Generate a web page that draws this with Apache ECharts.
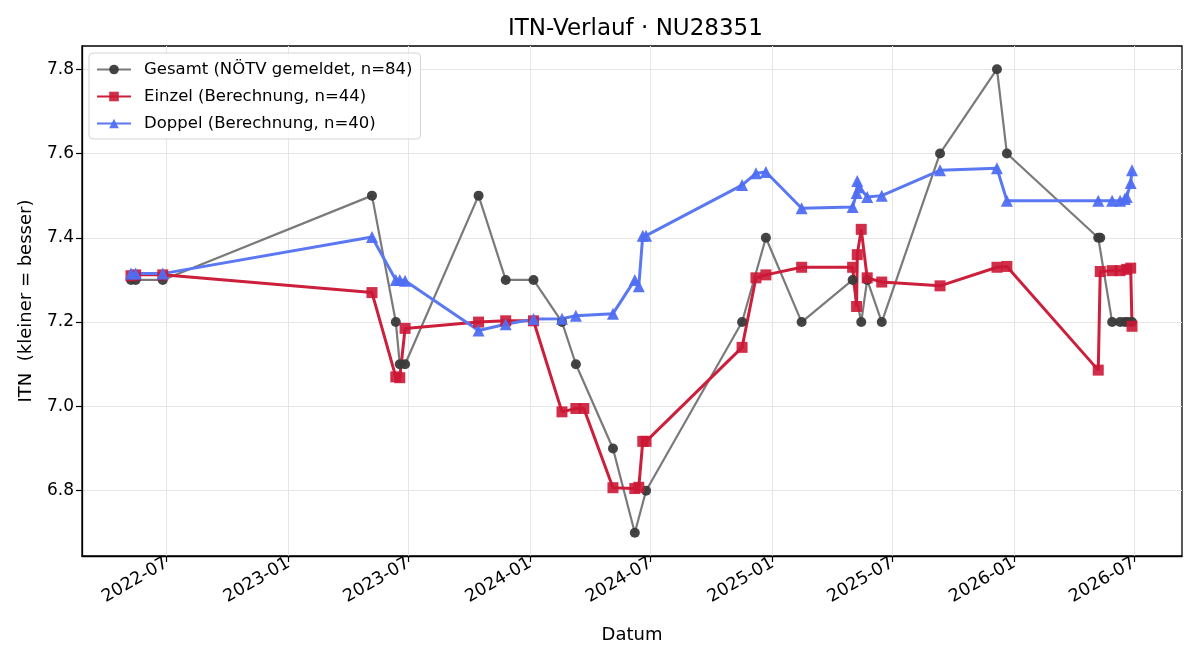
<!DOCTYPE html>
<html><head><meta charset="utf-8">
<script src="https://cdn.jsdelivr.net/npm/echarts@6/dist/echarts.min.js"></script>
<style>html,body{margin:0;padding:0;background:#fff}#c{width:1200px;height:660px}</style>
</head><body><div id="c"></div>
<script>
const gesamtDates = ['2022-05-08','2022-05-15','2022-06-25','2023-05-07','2023-06-12','2023-06-18','2023-06-26','2023-10-15','2023-11-25','2024-01-06','2024-02-18','2024-03-10','2024-05-05','2024-06-07','2024-06-24','2024-11-16','2024-12-22','2025-02-14','2025-05-02','2025-05-15','2025-05-24','2025-06-15','2025-09-11','2025-12-06','2025-12-21','2026-05-08','2026-05-11','2026-05-29','2026-06-10','2026-06-17','2026-06-22','2026-06-28'];
const gesamtValues = [7.3,7.3,7.3,7.5,7.2,7.1,7.1,7.5,7.3,7.3,7.2,7.1,6.9,6.7,6.8,7.2,7.4,7.2,7.3,7.2,7.3,7.2,7.6,7.8,7.6,7.4,7.4,7.2,7.2,7.2,7.2,7.2];

const einzelDates = ['2022-05-08','2022-05-15','2022-06-25','2023-05-07','2023-06-12','2023-06-18','2023-06-26','2023-10-15','2023-11-25','2024-01-06','2024-02-18','2024-03-10','2024-03-22','2024-05-05','2024-06-07','2024-06-13','2024-06-19','2024-06-24','2024-11-16','2024-12-07','2024-12-22','2025-02-14','2025-05-02','2025-05-08','2025-05-09','2025-05-15','2025-05-24','2025-06-15','2025-09-11','2025-12-06','2025-12-21','2026-05-08','2026-05-11','2026-05-29','2026-06-10','2026-06-20','2026-06-26','2026-06-28'];
const einzelValues = [7.31,7.312,7.312,7.27,7.07,7.068,7.185,7.2,7.203,7.203,6.987,6.995,6.995,6.807,6.805,6.808,6.917,6.917,7.14,7.305,7.312,7.33,7.33,7.237,7.36,7.42,7.305,7.295,7.286,7.33,7.332,7.086,7.32,7.322,7.322,7.325,7.328,7.19];

const doppelDates = ['2022-05-08','2022-05-15','2022-06-25','2023-05-07','2023-06-12','2023-06-18','2023-06-26','2023-10-15','2023-11-25','2024-01-06','2024-02-18','2024-03-10','2024-05-05','2024-06-07','2024-06-13','2024-06-19','2024-06-24','2024-11-16','2024-12-07','2024-12-22','2025-02-14','2025-05-02','2025-05-08','2025-05-09','2025-05-12','2025-05-24','2025-06-15','2025-09-11','2025-12-06','2025-12-21','2026-05-08','2026-05-29','2026-06-10','2026-06-17','2026-06-20','2026-06-26','2026-06-28'];
const doppelValues = [7.315,7.315,7.315,7.402,7.3,7.3,7.298,7.18,7.195,7.207,7.208,7.215,7.22,7.30,7.285,7.405,7.405,7.525,7.553,7.556,7.47,7.473,7.506,7.535,7.52,7.497,7.5,7.56,7.565,7.488,7.488,7.488,7.488,7.492,7.497,7.53,7.56];

const xTickLabels = ['2022-07','2023-01','2023-07','2024-01','2024-07','2025-01','2025-07','2026-01','2026-07'];
const yTickValues = [6.8,7.0,7.2,7.4,7.6,7.8];

function toTs(s){const p=s.split('-').map(Number);return Date.UTC(p[0],p[1]-1,p[2]||1);}
function pairs(d,v){return d.map((x,i)=>[toTs(x),v[i]]);}
function fmt(v){const d=new Date(v);return d.getUTCFullYear()+'-'+String(d.getUTCMonth()+1).padStart(2,'0');}

const FONT='DejaVu Sans';
const xTickTs = xTickLabels.map(toTs);
const chart=echarts.init(document.getElementById('c'),null,{renderer:'canvas'});
chart.setOption({
  animation:false,
  backgroundColor:'#fff',
  textStyle:{fontFamily:FONT},
  title:{text:'ITN-Verlauf · NU28351',left:503,top:13,textStyle:{fontFamily:FONT,fontSize:23,fontWeight:'normal',color:'#000'}},
  grid:{left:82,right:18,top:46,bottom:104,show:true,borderColor:'#000',borderWidth:1.3,backgroundColor:'transparent'},
  legend:{
    orient:'vertical',left:89,top:53,
    padding:[8,8,7,7],itemGap:10,itemWidth:34,itemHeight:12,
    backgroundColor:'rgba(255,255,255,0.85)',borderColor:'#d5d5d5',borderWidth:1,borderRadius:4,
    textStyle:{fontFamily:FONT,fontSize:16.5,color:'#000',padding:[0,0,0,8]},
    data:['Gesamt (NÖTV gemeldet, n=84)','Einzel (Berechnung, n=44)','Doppel (Berechnung, n=40)']
  },
  xAxis:{
    type:'value',
    min:Date.UTC(2022,1,23),max:Date.UTC(2026,8,11,12),
    name:'Datum',nameLocation:'middle',nameGap:70,
    nameTextStyle:{fontFamily:FONT,fontSize:18,color:'#000'},
    axisLine:{show:true,lineStyle:{color:'#000',width:1.3}},
    axisTick:{show:true,length:6,lineStyle:{color:'#000',width:1.2},customValues:xTickTs},
    axisLabel:{customValues:xTickTs,rotate:30,margin:6,fontFamily:FONT,fontSize:17.5,color:'#000',formatter:fmt,hideOverlap:false},
    splitLine:{show:true,lineStyle:{color:'#e6e6e6',width:1}}
  },
  yAxis:{
    type:'value',min:6.645,max:7.855,
    name:'ITN  (kleiner = besser)',nameLocation:'middle',nameGap:47,
    nameTextStyle:{fontFamily:FONT,fontSize:18,color:'#000'},
    axisLine:{show:true,lineStyle:{color:'#000',width:1.3}},
    axisTick:{show:true,length:6,lineStyle:{color:'#000',width:1.2},customValues:yTickValues},
    axisLabel:{customValues:yTickValues,margin:8,fontFamily:FONT,fontSize:17,color:'#000',formatter:v=>v.toFixed(1)},
    splitLine:{show:true,lineStyle:{color:'#e6e6e6',width:1}}
  },
  series:[
    {name:'Gesamt (NÖTV gemeldet, n=84)',type:'line',data:pairs(gesamtDates,gesamtValues),
     symbol:'circle',symbolSize:10,showAllSymbol:true,
     lineStyle:{color:'#7a7a7a',width:2.2},itemStyle:{color:'#3a3a3a',opacity:0.95}},
    {name:'Einzel (Berechnung, n=44)',type:'line',data:pairs(einzelDates,einzelValues),
     symbol:'rect',symbolSize:11,showAllSymbol:true,
     lineStyle:{color:'#cc1f3c',width:3},itemStyle:{color:'#cc1736',opacity:0.9}},
    {name:'Doppel (Berechnung, n=40)',type:'line',data:pairs(doppelDates,doppelValues),
     symbol:'triangle',symbolSize:12,showAllSymbol:true,
     lineStyle:{color:'#5a78f2',width:3},itemStyle:{color:'#4f6ef2',opacity:0.95}}
  ]
});
</script></body></html>
